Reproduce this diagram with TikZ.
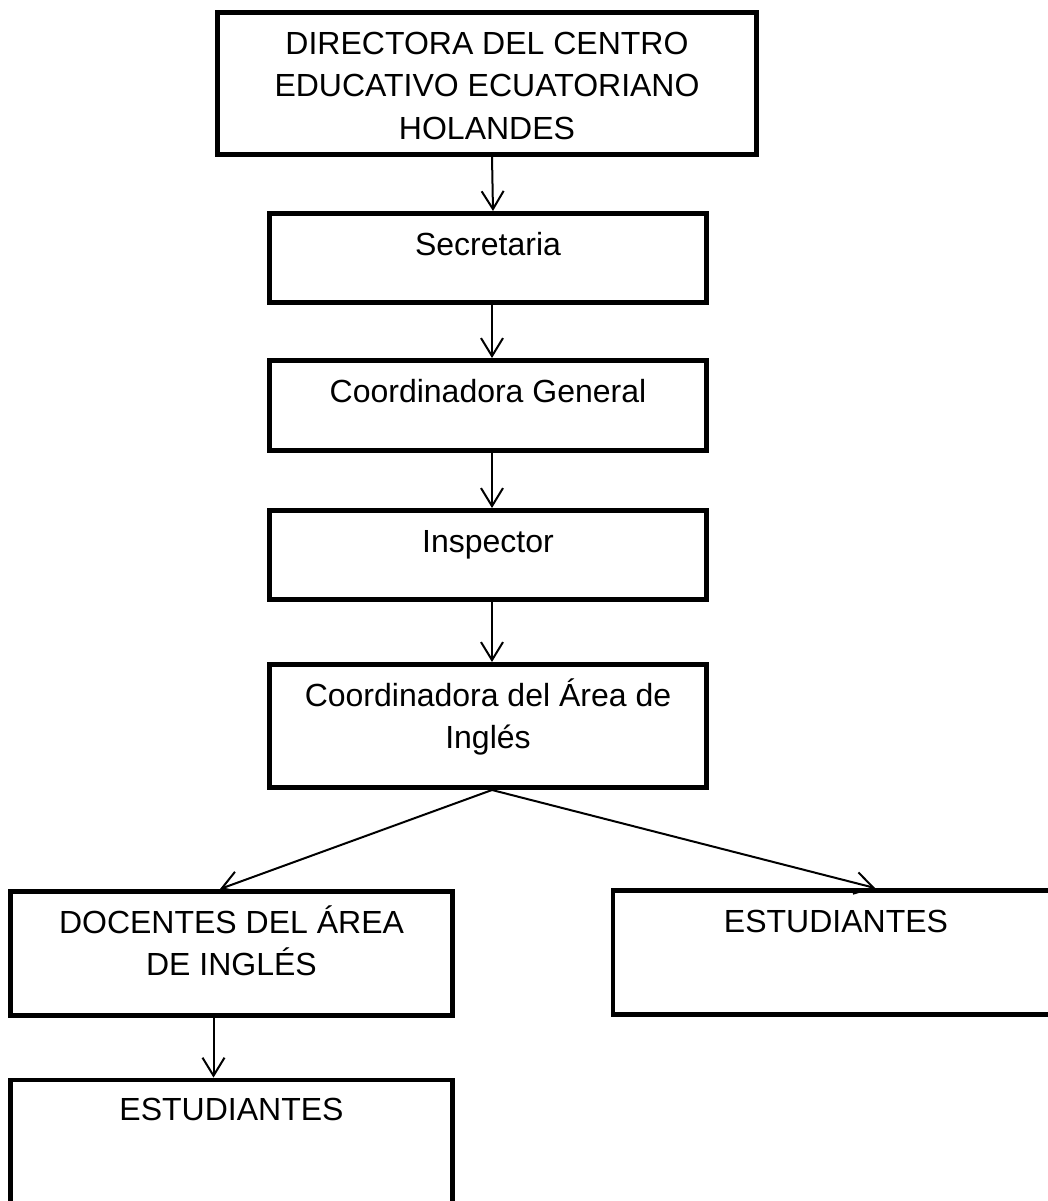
\documentclass[tikz,border=0pt]{standalone}
\usepackage{fontspec}
\setmainfont{Liberation Sans}
\usetikzlibrary{arrows.meta}
\tikzset{
  orgbox/.style={draw=black, line width=4.8pt, rectangle, inner sep=0pt},
  txt/.style={align=center, inner sep=0pt, anchor=base, font=\fontsize{32pt}{42.5pt}\selectfont},
  arr/.style={draw=black, line width=2pt, -{Straight Barb[length=18pt, width=22pt, line width=2pt]}}
}
\begin{document}
\begin{tikzpicture}[x=1pt, y=-1pt]
\useasboundingbox (0,0) rectangle (1047,1201);
% boxes
\node[orgbox, minimum width=539.2pt, minimum height=142.2pt] (b1) at (487,83.5) {};
\node[orgbox, minimum width=437.2pt, minimum height=89.2pt] (b2) at (488,258) {};
\node[orgbox, minimum width=437.2pt, minimum height=90.2pt] (b3) at (488,405.5) {};
\node[orgbox, minimum width=437.2pt, minimum height=89.2pt] (b4) at (488,555) {};
\node[orgbox, minimum width=437.2pt, minimum height=123.2pt] (b5) at (488,726) {};
\node[orgbox, minimum width=442.2pt, minimum height=124.2pt] (b6) at (231.5,953.5) {};
\node[orgbox, minimum width=446.2pt, minimum height=124.2pt] (b7) at (836,952.5) {};
\node[orgbox, minimum width=442.2pt, minimum height=160pt] (b8) at (231.5,1160) {};
% texts (anchor base = baseline of the last line)
\node[txt] (t1) at ([yshift=-129.5pt]b1.north) {DIRECTORA DEL CENTRO\\EDUCATIVO ECUATORIANO\\HOLANDES};
\node[txt] (t2) at ([yshift=-44pt]b2.north) {Secretaria};
\node[txt] (t3) at ([yshift=-44pt]b3.north) {Coordinadora General};
\node[txt] (t4) at ([yshift=-44pt]b4.north) {Inspector};
\node[txt] (t5) at ([yshift=-86.5pt]b5.north) {Coordinadora del Área de\\Inglés};
\node[txt] (t6) at ([yshift=-86.5pt]b6.north) {DOCENTES DEL ÁREA\\DE INGLÉS};
\node[txt] (t7) at ([yshift=-44pt]b7.north) {ESTUDIANTES};
\node[txt] (t8) at ([yshift=-43pt]b8.north) {ESTUDIANTES};
% connectors
\draw[arr] ([xshift=5pt]b1.south) -- ([xshift=5pt]b2.north);
\draw[arr] ([xshift=4pt]b2.south) -- ([xshift=4pt]b3.north);
\draw[arr] ([xshift=4pt]b3.south) -- ([xshift=4pt]b4.north);
\draw[arr] ([xshift=4pt]b4.south) -- ([xshift=4pt]b5.north);
\draw[arr] ([xshift=4pt]b5.south) -- ([xshift=-11.5pt]b6.north);
\draw[arr] ([xshift=4pt]b5.south) -- ([xshift=39pt]b7.north);
\draw[arr] ([xshift=-18pt]b6.south) -- ([xshift=-18pt]b8.north);
\end{tikzpicture}
\end{document}
